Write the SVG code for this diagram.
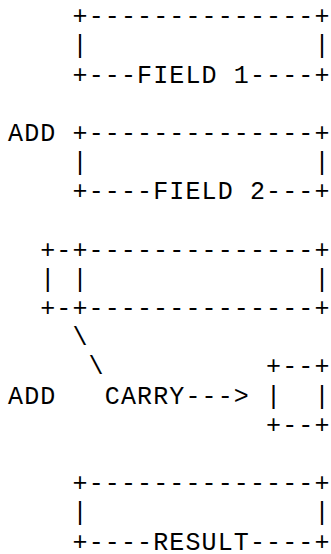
<svg xmlns="http://www.w3.org/2000/svg" width="331" height="554" viewBox="0 0 331 554">
<style>
text{font-family:"Liberation Mono","Courier New",monospace;font-size:25px;letter-spacing:1.13px;fill:#000;white-space:pre}
</style>
<rect width="331" height="554" fill="#fff"/>
<g id="field1">
<text x="72.5" y="24.1">+--------------+</text>
<text x="72.5" y="53.3">|              |</text>
<text x="72.5" y="82.5">+---FIELD 1----+</text>
</g>
<g id="add1"><text x="8.0" y="140.9">ADD</text></g>
<g id="field2">
<text x="72.5" y="140.9">+--------------+</text>
<text x="72.5" y="170.1">|              |</text>
<text x="72.5" y="199.2">+----FIELD 2---+</text>
</g>
<g id="carry-register">
<text x="40.2" y="257.6">+-+--------------+</text>
<text x="40.2" y="286.8">| |              |</text>
<text x="40.2" y="316.0">+-+--------------+</text>
</g>
<g id="add2"><text x="8.0" y="403.6">ADD</text></g>
<g id="carry-box">
<text x="266.1" y="374.4">+--+</text>
<text x="266.1" y="403.6">|  |</text>
<text x="266.1" y="432.8">+--+</text>
</g>
<g id="connectors">
<text x="72.5" y="345.2">\</text>
<text x="88.6" y="374.4">\</text>
<text x="104.8" y="403.6">CARRY---&gt;</text>
</g>
<g id="result">
<text x="72.5" y="491.1">+--------------+</text>
<text x="72.5" y="520.3">|              |</text>
<text x="72.5" y="549.5">+----RESULT----+</text>
</g>
</svg>
